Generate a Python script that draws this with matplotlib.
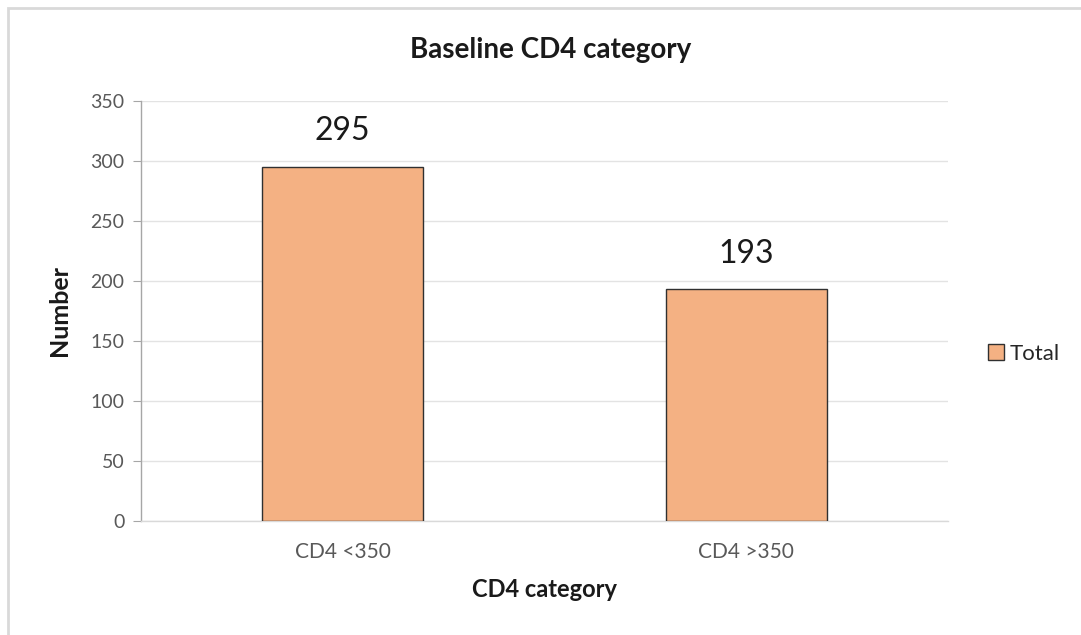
import matplotlib
matplotlib.use("Agg")
import matplotlib.pyplot as plt
from matplotlib.patches import Rectangle

categories = ["CD4 <350", "CD4 >350"]
totals = [295, 193]
yticks = [0, 50, 100, 150, 200, 250, 300, 350]

plt.rcParams['font.family'] = ['Lato', 'DejaVu Sans']

W, H = 1081, 635
fig = plt.figure(figsize=(W / 100, H / 100), dpi=100)
fig.patch.set_facecolor("white")

# outer chart frame
fig.patches.append(Rectangle((8 / W, -0.05), 1.2, 1 - 8 / H + 0.05,
                             transform=fig.transFigure, fill=False,
                             edgecolor="#d9d9d9", linewidth=2))

ax = fig.add_axes([141 / W, (H - 520.7) / H, (948 - 141) / W, (520.7 - 100.7) / H])
x = list(range(len(categories)))
bars = ax.bar(x, totals, width=0.4, color="#f4b183", edgecolor="#303030",
              linewidth=1.0, label="Total", zorder=3)

for xi, v in zip(x, totals):
    ax.annotate(f"{v}", xy=(xi, v), xytext=(0, 19), textcoords="offset points",
                ha="center", va="baseline", fontsize=23, color="#1a1a1a")

ax.set_xlim(-0.5, 1.5)
ax.set_ylim(0, 350)
ax.set_yticks(yticks)
ax.set_xticks(x)
ax.set_xticklabels(categories)
ax.grid(axis="y", color="#e3e3e3", linewidth=1.0, zorder=0)
ax.set_axisbelow(True)

for s in ["top", "right"]:
    ax.spines[s].set_visible(False)
ax.spines["left"].set_color("#a6a6a6")
ax.spines["bottom"].set_color("#d9d9d9")
ax.spines["left"].set_linewidth(1.0)
ax.spines["bottom"].set_linewidth(1.0)

ax.tick_params(axis="y", length=6, color="#a6a6a6", labelsize=14, labelcolor="#595959", pad=6)
ax.tick_params(axis="x", length=0, labelsize=15, labelcolor="#595959", pad=15)

ax.set_ylabel("Number", fontsize=18, fontweight="bold", color="#1a1a1a", labelpad=14)
ax.set_xlabel("CD4 category", fontsize=17, fontweight="bold", color="#1a1a1a", labelpad=12)

fig.text(551 / W, 1 - 50 / H, "Baseline CD4 category", ha="center", va="center",
         fontsize=20, fontweight="bold", color="#1a1a1a")

ax.legend(loc="center left", bbox_to_anchor=(972 / W, 1 - 354 / H),
          bbox_transform=fig.transFigure, frameon=False, fontsize=16,
          handlelength=0.75, handleheight=0.75, handletextpad=0.25,
          borderpad=0.2, labelcolor="#262626")

fig.savefig("out.png", dpi=100, facecolor="white")
